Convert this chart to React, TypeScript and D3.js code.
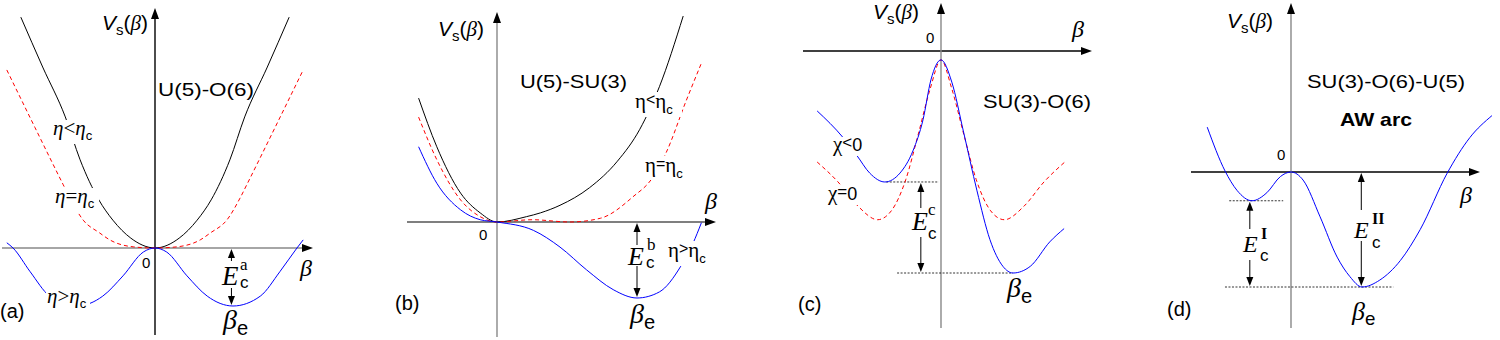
import * as d3 from "d3";

type Pt = [number, number];

// (a) U(5)-O(6): beta in units of beta_e, V in units of E_c^a
const blackA: Pt[] = [[-1.72, 3.98], [-1.44, 3.12], [-1.15, 2.26], [-0.96, 1.52], [-0.72, 0.83], [-0.54, 0.48], [-0.31, 0.17], [0, 0], [0.31, 0.17], [0.54, 0.48], [0.72, 0.83], [0.96, 1.52], [1.15, 2.26], [1.44, 3.12], [1.72, 3.98]];
const redA: Pt[] = [[-1.9, 3.07], [-1.54, 2.08], [-1.18, 1.1], [-1.09, 0.86], [-0.92, 0.48], [-0.71, 0.26], [-0.58, 0.14], [-0.28, 0.02], [0, 0], [0.28, 0.02], [0.58, 0.14], [0.71, 0.26], [0.92, 0.48], [1.09, 0.86], [1.18, 1.1], [1.54, 2.08], [1.9, 3.07]];
const blueA: Pt[] = [[-1.9, 0.09], [-1.82, 0], [-1.6, -0.41], [-1.35, -0.83], [-1, -1], [-0.67, -0.83], [-0.41, -0.48], [-0.15, -0.07], [0, 0], [0.15, -0.07], [0.41, -0.48], [0.67, -0.83], [1, -1], [1.35, -0.83], [1.6, -0.41], [1.82, 0], [1.9, 0.14]];

// (b) U(5)-SU(3)
const blackB: Pt[] = [[-0.56, 1.63], [-0.43, 0.99], [-0.26, 0.38], [-0.12, 0.12], [0, 0], [0.21, 0.07], [0.31, 0.12], [0.45, 0.22], [0.66, 0.45], [0.86, 0.8], [1.02, 1.22], [1.16, 1.78], [1.33, 2.71]];
const redB: Pt[] = [[-0.56, 1.38], [-0.43, 0.82], [-0.26, 0.29], [-0.12, 0.07], [0, 0], [0.25, 0.03], [0.52, 0], [0.74, 0.05], [0.97, 0.33], [1.11, 0.58], [1.21, 0.92], [1.35, 1.59], [1.46, 2.09]];
const blueB: Pt[] = [[-0.56, 0.99], [-0.43, 0.51], [-0.26, 0.16], [-0.12, 0.03], [0, 0], [0.26, -0.11], [0.45, -0.33], [0.64, -0.63], [0.83, -0.89], [1, -1], [1.16, -0.92], [1.31, -0.59], [1.4, -0.28], [1.46, -0.01]];

// (c) SU(3)-O(6)
const blueC: Pt[] = [[-1.72, -0.27], [-1.36, -0.39], [-1.17, -0.47], [-0.99, -0.55], [-0.78, -0.59], [-0.57, -0.55], [-0.39, -0.45], [-0.25, -0.31], [-0.14, -0.13], [0, -0.04], [0.15, -0.14], [0.31, -0.36], [0.5, -0.63], [0.68, -0.85], [0.86, -0.97], [1, -1], [1.24, -0.97], [1.51, -0.86], [1.71, -0.8]];
const redC: Pt[] = [[-1.72, -0.5], [-1.43, -0.59], [-1.15, -0.7], [-0.88, -0.76], [-0.69, -0.72], [-0.49, -0.58], [-0.32, -0.38], [-0.15, -0.17], [0, -0.04], [0.15, -0.17], [0.32, -0.38], [0.49, -0.58], [0.69, -0.72], [0.88, -0.76], [1.15, -0.7], [1.43, -0.59], [1.72, -0.5]];

// (d) SU(3)-O(6)-U(5), AW arc
const blueD: Pt[] = [[-1.18, 0.39], [-0.93, 0.01], [-0.76, -0.16], [-0.55, -0.25], [-0.34, -0.18], [-0.15, -0.04], [0, 0], [0.17, -0.07], [0.41, -0.39], [0.65, -0.74], [0.83, -0.91], [1, -1], [1.25, -0.94], [1.54, -0.77], [1.82, -0.5], [2.2, -0.01], [2.52, 0.3], [2.83, 0.49]];

// barrier arrows: [beta, V top, V bottom]
const gapA: [number, number, number] = [0.98, 0, -1];
const gapB: [number, number, number] = [1, 0, -1];
const gapC: [number, number, number] = [-0.28, -0.59, -1];
const gapDI: [number, number, number] = [-0.58, -0.25, -1];
const gapDII: [number, number, number] = [0.99, 0, -1];

// dotted reference levels: [beta from, beta to, V]
const levelsC: [number, number, number][] = [[-0.76, -0.03, -0.59], [-0.61, 1.0, -1]];
const levelsD: [number, number, number][] = [[-0.87, -0.11, -0.25], [-0.93, 1.44, -1]];

const SANS = "'Liberation Sans', Arial, Helvetica, sans-serif";
const SERIF = "'Liberation Serif', 'Times New Roman', serif";
const BLUE = "#0000ff";
const RED = "#ff0000";

interface PanelCfg {
  ox: number;
  oy: number;
  ux: number;
  uy: number;
  xr: [number, number];
  yr: [number, number];
  xCol: string;
  yCol: string;
}

const cfgA: PanelCfg = { ox: 155, oy: 248, ux: 78, uy: 58, xr: [2, 313], yr: [335, 8], xCol: "#888", yCol: "#000" };
const cfgB: PanelCfg = { ox: 497, oy: 222, ux: 140, uy: 76, xr: [407, 716], yr: [337, 12], xCol: "#555", yCol: "#888" };
const cfgC: PanelCfg = { ox: 941, oy: 51, ux: 72, uy: 222, xr: [803, 1092], yr: [328, 3], xCol: "#000", yCol: "#888" };
const cfgD: PanelCfg = { ox: 1291, oy: 172, ux: 71, uy: 115, xr: [1191, 1480], yr: [328, 3], xCol: "#000", yCol: "#888" };

function scales(c: PanelCfg) {
  const x = d3.scaleLinear().domain([0, 1]).range([c.ox, c.ox + c.ux]);
  const y = d3.scaleLinear().domain([0, 1]).range([c.oy, c.oy - c.uy]);
  const line = d3
    .line<Pt>()
    .x((d) => x(d[0]))
    .y((d) => y(d[1]))
    .curve(d3.curveMonotoneX);
  return { x, y, line };
}

function Axes({ c }: { c: PanelCfg }) {
  const [x0, x1] = c.xr;
  const [y0, y1] = c.yr;
  return (
    <g>
      <line x1={x0} y1={c.oy} x2={x1 - 6} y2={c.oy} stroke={c.xCol} strokeWidth={1.4} />
      <path d={`M${x1},${c.oy} L${x1 - 11},${c.oy - 4} L${x1 - 11},${c.oy + 4} Z`} fill="#000" />
      <line x1={c.ox} y1={y0} x2={c.ox} y2={y1 + 6} stroke={c.yCol} strokeWidth={1.4} />
      <path d={`M${c.ox},${y1} L${c.ox - 4},${y1 + 11} L${c.ox + 4},${y1 + 11} Z`} fill="#000" />
    </g>
  );
}

function GapArrow({ c, g }: { c: PanelCfg; g: [number, number, number] }) {
  const { x, y } = scales(c);
  const xx = x(g[0]);
  const yt = y(g[1]) + 1;
  const yb = y(g[2]) - 1;
  return (
    <g>
      <line x1={xx} y1={yt + 8} x2={xx} y2={yb - 8} stroke="#000" strokeWidth={1} />
      <path d={`M${xx},${yt} L${xx - 3.5},${yt + 9} L${xx + 3.5},${yt + 9} Z`} fill="#000" />
      <path d={`M${xx},${yb} L${xx - 3.5},${yb - 9} L${xx + 3.5},${yb - 9} Z`} fill="#000" />
    </g>
  );
}

function Levels({ c, lv }: { c: PanelCfg; lv: [number, number, number][] }) {
  const { x, y } = scales(c);
  return (
    <g>
      {lv.map((l, i) => (
        <line key={i} x1={x(l[0])} x2={x(l[1])} y1={y(l[2])} y2={y(l[2])} stroke="#000" strokeWidth={0.8} strokeDasharray="2,1.5" />
      ))}
    </g>
  );
}

function Curve({ c, data, color, dashed }: { c: PanelCfg; data: Pt[]; color: string; dashed?: boolean }) {
  const { line } = scales(c);
  return (
    <path d={line(data) || ""} fill="none" stroke={color} strokeWidth={1} strokeDasharray={dashed ? "4,3" : undefined} />
  );
}

function Bg({ r }: { r: [number, number, number, number] }) {
  return <rect x={r[0]} y={r[1]} width={r[2]} height={r[3]} fill="#fff" />;
}

function Vs({ x, y }: { x: number; y: number }) {
  return (
    <text x={x} y={y} fontFamily={SANS} fontSize={21}>
      <tspan fontStyle="italic">V</tspan>
      <tspan fontSize={15} dy={5}>s</tspan>
      <tspan dy={-5}>(</tspan>
      <tspan fontFamily={SERIF} fontStyle="italic">{"\u03B2"}</tspan>
      <tspan>)</tspan>
    </text>
  );
}

function Beta({ x, y, size = 24 }: { x: number; y: number; size?: number }) {
  return (
    <text x={x} y={y} fontFamily={SERIF} fontStyle="italic" fontSize={size}>
      {"\u03B2"}
    </text>
  );
}

function BetaE({ x, y, size = 28 }: { x: number; y: number; size?: number }) {
  return (
    <text x={x} y={y} fontFamily={SERIF} fontStyle="italic" fontSize={size}>
      {"\u03B2"}
      <tspan fontFamily={SANS} fontStyle="normal" fontSize={size * 0.72} dy={size * 0.2}>e</tspan>
    </text>
  );
}

// italic eta labels of panel (a)
function EtaI({ x, y, op }: { x: number; y: number; op: string }) {
  return (
    <text x={x} y={y} fontFamily={SERIF} fontStyle="italic" fontSize={21}>
      {"\u03B7"}
      <tspan fontStyle="normal">{op}</tspan>
      {"\u03B7"}
      <tspan fontFamily={SANS} fontStyle="normal" fontSize={13} dy={5}>c</tspan>
    </text>
  );
}

// upright eta labels of panel (b)
function EtaU({ x, y, op }: { x: number; y: number; op: string }) {
  return (
    <text x={x} y={y} fontFamily={SERIF} fontSize={21}>
      {"\u03B7"}
      <tspan fontFamily={SANS} fontSize={16} dy={-3}>{op}</tspan>
      <tspan dy={3}>{"\u03B7"}</tspan>
      <tspan fontFamily={SANS} fontSize={13} dy={6}>c</tspan>
    </text>
  );
}

function Chi({ x, y, op }: { x: number; y: number; op: string }) {
  return (
    <text x={x} y={y} fontFamily={SERIF} fontSize={21}>
      {"\u03C7"}
      <tspan fontFamily={SANS} fontSize={17} dy={-3}>{op}</tspan>
      <tspan fontFamily={SANS} fontSize={18} dy={3}>0</tspan>
    </text>
  );
}

function Ec({ ex, ey, size, sup, sx, sy, cx, cy, bold }: { ex: number; ey: number; size: number; sup: string; sx: number; sy: number; cx: number; cy: number; bold?: boolean }) {
  return (
    <g>
      <text x={ex} y={ey} fontFamily={SERIF} fontStyle="italic" fontSize={size}>E</text>
      <text x={sx} y={sy} fontFamily={SERIF} fontWeight={bold ? "bold" : "normal"} fontSize={bold ? 16 : 17}>{sup}</text>
      <text x={cx} y={cy} fontFamily={SANS} fontSize={17}>c</text>
    </g>
  );
}

function Title({ x, y, w, children, bold }: { x: number; y: number; w: number; children: string; bold?: boolean }) {
  return (
    <text x={x} y={y} fontFamily={SANS} fontSize={19} fontWeight={bold ? "bold" : "normal"} textLength={w} lengthAdjust="spacingAndGlyphs">
      {children}
    </text>
  );
}

function Small({ x, y, t, size = 15 }: { x: number; y: number; t: string; size?: number }) {
  return (
    <text x={x} y={y} fontFamily={SANS} fontSize={size}>
      {t}
    </text>
  );
}

export default function App() {
  return (
    <svg width={1500} height={340} style={{ position: "absolute", left: 0, top: 0, background: "#fff" }}>
      <rect width={1500} height={340} fill="#fff" />

      {/* (a) */}
      <Axes c={cfgA} />
      <Curve c={cfgA} data={blackA} color="#000" />
      <Curve c={cfgA} data={redA} color={RED} dashed />
      <Curve c={cfgA} data={blueA} color={BLUE} />
      <GapArrow c={cfgA} g={gapA} />
      <Vs x={102} y={30} />
      <Title x={158} y={96} w={96}>U(5)-O(6)</Title>
      <Small x={0} y={318} t="(a)" size={20} />
      <Small x={142} y={268} t="0" />
      <Beta x={300} y={276} />
      <Bg r={[52, 120, 44, 24]} />
      <EtaI x={53} y={135} op="<" />
      <Bg r={[54, 188, 45, 24]} />
      <EtaI x={55} y={203} op="=" />
      <Bg r={[46, 289, 44, 24]} />
      <EtaI x={47} y={303} op=">" />
      <Bg r={[220, 261, 32, 27]} />
      <Ec ex={222} ey={285} size={27} sup="a" sx={240} sy={270} cx={240} cy={288} />
      <BetaE x={223} y={329} />

      {/* (b) */}
      <Axes c={cfgB} />
      <Curve c={cfgB} data={blackB} color="#000" />
      <Curve c={cfgB} data={redB} color={RED} dashed />
      <Curve c={cfgB} data={blueB} color={BLUE} />
      <GapArrow c={cfgB} g={gapB} />
      <Vs x={438} y={36} />
      <Title x={520} y={88} w={107}>U(5)-SU(3)</Title>
      <Small x={395} y={310} t="(b)" size={20} />
      <Small x={479} y={240} t="0" />
      <Beta x={705} y={209} />
      <Bg r={[634, 92, 48, 25]} />
      <EtaU x={635} y={108} op="<" />
      <Bg r={[644, 156, 48, 24]} />
      <EtaU x={645} y={172} op="=" />
      <Bg r={[667, 241, 48, 25]} />
      <EtaU x={668} y={257} op=">" />
      <Bg r={[626, 245, 33, 21]} />
      <Ec ex={628} ey={265} size={26} sup="b" sx={647} sy={250} cx={646} cy={268} />
      <BetaE x={630} y={323} />

      {/* (c) */}
      <Axes c={cfgC} />
      <Levels c={cfgC} lv={levelsC} />
      <Curve c={cfgC} data={redC} color={RED} dashed />
      <Curve c={cfgC} data={blueC} color={BLUE} />
      <GapArrow c={cfgC} g={gapC} />
      <Vs x={873} y={19} />
      <Title x={983} y={108} w={108}>SU(3)-O(6)</Title>
      <Small x={798} y={311} t="(c)" size={20} />
      <Small x={926} y={43} t="0" />
      <Beta x={1072} y={37} />
      <Bg r={[832, 137, 38, 19]} />
      <Chi x={833} y={151} op="<" />
      <Bg r={[827, 186, 38, 19]} />
      <Chi x={828} y={200} op="=" />
      <Bg r={[910, 208, 30, 29]} />
      <Ec ex={912} ey={230} size={26} sup="c" sx={928} sy={215} cx={928} cy={239} />
      <BetaE x={1007} y={297} />

      {/* (d) */}
      <Axes c={cfgD} />
      <Levels c={cfgD} lv={levelsD} />
      <Curve c={cfgD} data={blueD} color={BLUE} />
      <GapArrow c={cfgD} g={gapDI} />
      <GapArrow c={cfgD} g={gapDII} />
      <Vs x={1227} y={28} />
      <Title x={1307} y={88} w={158}>SU(3)-O(6)-U(5)</Title>
      <Title x={1340} y={126} w={72} bold>AW arc</Title>
      <Small x={1167} y={316} t="(d)" size={20} />
      <Small x={1277} y={160} t="0" />
      <Beta x={1460} y={203} />
      <Bg r={[1240, 229, 34, 31]} />
      <Ec ex={1243} ey={252} size={24} sup="I" sx={1261} sy={239} cx={1260} cy={261} bold />
      <Bg r={[1351, 210, 36, 31]} />
      <Ec ex={1354} ey={238} size={24} sup="II" sx={1372} sy={224} cx={1372} cy={248} bold />
      <BetaE x={1352} y={320} size={26} />
    </svg>
  );
}
